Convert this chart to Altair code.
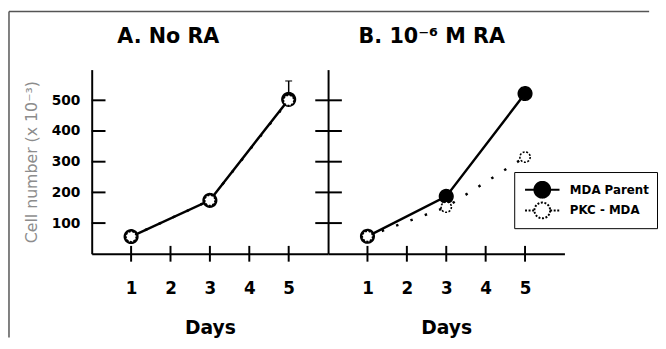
import altair as alt
import pandas as pd

# ---- data ----
days = [1, 3, 5]
a_parent = [56, 174, 503]
a_pkc = [56, 174, 500]
b_parent = [57, 187, 522]
b_pkc = [57, 152, 315]
series_names = ["MDA Parent", "PKC - MDA"]
err_day = [5]
err_mean = [503]
err_upper = [563]
x_tick_values = [1, 2, 3, 4, 5]
y_tick_values = [100, 200, 300, 400, 500]
title_a = "A. No RA"
title_b = "B. 10\u207b\u2076 M RA"
y_title = "Cell number (x 10\u207b\u00b3)"
x_title = "Days"

W, H = 240, 187
FONT = "DejaVu Sans"


def panel_df(parent, pkc):
    rows = []
    for d, v in zip(days, parent):
        rows.append({"day": d, "cells": v, "series": series_names[0]})
    for d, v in zip(days, pkc):
        rows.append({"day": d, "cells": v, "series": series_names[1]})
    return pd.DataFrame(rows)


df_a = panel_df(a_parent, a_pkc)
df_b = panel_df(b_parent, b_pkc)
err_df = pd.DataFrame({"day": err_day, "mean": err_mean, "upper": err_upper})
xt_df = pd.DataFrame({"day": x_tick_values})
yt_df = pd.DataFrame({"cells": y_tick_values})
one = pd.DataFrame({"k": [0]})

x_scale = alt.Scale(domain=[0, 6], nice=False, zero=False)
y_scale = alt.Scale(domain=[0, 600], nice=False)
fill_scale = alt.Scale(domain=series_names, range=["black", "white"])
dash_scale = alt.Scale(domain=series_names, range=[[1, 0], [2, 1.6]])

LEG_PATH = ("M-1.75,0L-0.8,0M0.8,0L1.75,0M0.8,0A0.8,0.8,0,1,1,-0.8,0"
            "A0.8,0.8,0,1,1,0.8,0Z")


def make_legend():
    return alt.Legend(
        title=None, orient="none", legendX=189, legendY=104,
        symbolType=LEG_PATH, symbolSize=400, symbolStrokeColor="black",
        symbolStrokeWidth=2, labelFont=FONT, labelFontSize=12,
        labelFontWeight="bold", labelColor="black", padding=8,
        strokeColor="black", fillColor="white", symbolOffset=9.5,
        labelOffset=17, rowPadding=1, clipHeight=20,
    )


def x_enc():
    return alt.X(
        "day:Q", scale=x_scale,
        axis=alt.Axis(values=x_tick_values, title=x_title, labelFontSize=17,
                      labelPadding=27, titleFontSize=19, titlePadding=23,
                      titleFontWeight="bold", titleFont=FONT, titleColor="black"),
    )


def panel(df, title, left, legend):
    if left:
        yaxis = alt.Axis(values=y_tick_values, title=y_title, labelFontSize=14,
                         labelPadding=12, titleFont=FONT, titleFontSize=16,
                         titleFontWeight="normal", titleColor="#8c8c8c",
                         titlePadding=12)
    else:
        yaxis = alt.Axis(values=y_tick_values, labels=False, title=None)
    y = alt.Y("cells:Q", scale=y_scale, axis=yaxis)
    base = alt.Chart(df)
    leg = make_legend() if legend else None

    line_pkc = base.transform_filter(
        alt.datum.series == series_names[1]
    ).mark_line(color="black", strokeWidth=2.5, strokeDash=[2.5, 13]).encode(
        x=x_enc(), y=y)
    line_parent = base.transform_filter(
        alt.datum.series == series_names[0]
    ).mark_line(color="black", strokeWidth=2.5).encode(x="day:Q", y="cells:Q")

    def pts(name, size, sw):
        return base.transform_filter(alt.datum.series == name).mark_point(
            filled=True, stroke="black", strokeWidth=sw, size=size,
            shape="circle", opacity=1).encode(
            x="day:Q", y="cells:Q",
            fill=alt.Fill("series:N", scale=fill_scale, legend=leg),
            strokeDash=alt.StrokeDash("series:N", scale=dash_scale, legend=leg),
        )

    pts_parent = pts(series_names[0], 190, 1.5)
    pts_pkc = pts(series_names[1], 110, 1.6)

    xticks = alt.Chart(xt_df).mark_rule(color="black", strokeWidth=2).encode(
        x="day:Q", y=alt.value(H - 8), y2=alt.value(H + 8))
    if left:
        yticks = alt.Chart(yt_df).mark_rule(color="black", strokeWidth=2).encode(
            y="cells:Q", x=alt.value(0), x2=alt.value(14))
    else:
        yticks = alt.Chart(yt_df).mark_rule(color="black", strokeWidth=2).encode(
            y="cells:Q", x=alt.value(-13), x2=alt.value(14))
    ttl = alt.Chart(one).mark_text(
        align="left", baseline="alphabetic", fontSize=21, fontWeight="bold",
        font=FONT, color="black").encode(
        x=alt.value(26 if left else 31), y=alt.value(-27), text=alt.value(title))

    layers = [line_pkc, line_parent, yticks, xticks]
    if left:
        err_rule = alt.Chart(err_df).mark_rule(color="black", strokeWidth=1.5).encode(
            x="day:Q", y="mean:Q", y2="upper:Q")
        err_cap = alt.Chart(err_df).mark_tick(
            orient="horizontal", size=7, thickness=1.5, color="black").encode(
            x="day:Q", y="upper:Q")
        frame_top = alt.Chart(one).mark_rule(color="#555555", strokeWidth=1.5).encode(
            x=alt.value(-84), x2=alt.value(566), y=alt.value(-59))
        frame_left = alt.Chart(one).mark_rule(color="#555555", strokeWidth=1.5).encode(
            x=alt.value(-84), y=alt.value(-59), y2=alt.value(272))
        layers += [err_rule, err_cap, frame_top, frame_left]
    layers += [pts_parent, pts_pkc, ttl]
    return alt.layer(*layers).properties(width=W, height=H)


left = panel(df_a, title_a, True, False)
right = panel(df_b, title_b, False, True)

chart = alt.hconcat(left, right, spacing=0, bounds="flush").resolve_scale(
    fill="independent", strokeDash="independent"
).resolve_legend(
    fill="independent", strokeDash="independent"
).properties(
    padding=0
).configure_view(stroke=None).configure_axis(
    domainColor="black", domainWidth=2, grid=False, ticks=False,
    labelFont=FONT, labelFontWeight="bold", labelColor="black",
)

chart.save("out.html", embed_options={"renderer": "svg", "actions": False})
